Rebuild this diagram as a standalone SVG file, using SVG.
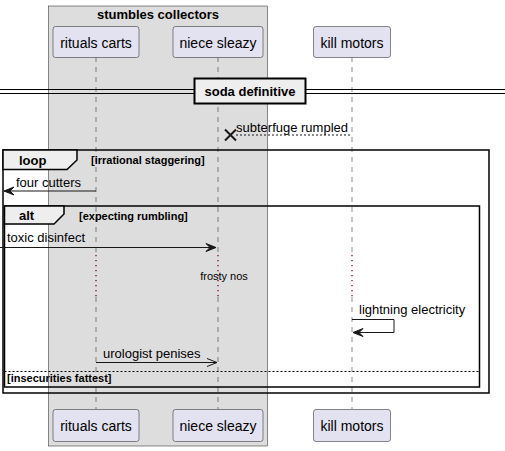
<svg xmlns="http://www.w3.org/2000/svg" width="505" height="451" viewBox="0 0 505 451">
<style>
text{font-family:"Liberation Sans",Arial,sans-serif;fill:#000}
.pt{font-size:14px;text-anchor:middle}
.msg{font-size:13px}
.b13{font-size:13px;font-weight:bold}
.b11{font-size:11px;font-weight:bold}
.pbox{fill:#E2E2F0;stroke:#181818;stroke-width:0.5}
.life{stroke:#181818;stroke-width:0.5;stroke-dasharray:5,5;fill:none}
.delay{stroke:#800030;stroke-width:1.3;stroke-dasharray:1.3,3.7;fill:none}
.frame{fill:none;stroke:#000;stroke-width:1.5}
.tab{fill:#EEEEEE;stroke:#000;stroke-width:1.5}
.line{stroke:#181818;stroke-width:1;fill:none}
.head{fill:#181818;stroke:#181818;stroke-width:1}
</style>
<g id="box-stumbles-collectors">
<rect x="48.5" y="6" width="219" height="440" fill="#DDDDDD" stroke="#181818" stroke-width="0.5"/>
<text class="b13" x="158" y="19" text-anchor="middle">stumbles collectors</text>
</g>
<g id="lifelines">
<line class="life" x1="96" y1="57" x2="96" y2="253"/>
<line class="delay" x1="96" y1="255" x2="96" y2="297"/>
<line class="life" x1="96" y1="297" x2="96" y2="409"/>
<line class="life" x1="218" y1="57" x2="218" y2="253"/>
<line class="delay" x1="218" y1="255" x2="218" y2="297"/>
<line class="life" x1="218" y1="297" x2="218" y2="409"/>
<line class="life" x1="352" y1="57" x2="352" y2="253"/>
<line class="delay" x1="352" y1="255" x2="352" y2="297"/>
<line class="life" x1="352" y1="297" x2="352" y2="409"/>
</g>
<g id="rituals-carts">
<rect class="pbox" x="53" y="26.5" width="86" height="31" rx="2.5"/>
<text class="pt" x="96" y="47.5">rituals carts</text>
<rect class="pbox" x="53" y="409.5" width="86" height="32" rx="2.5"/>
<text class="pt" x="96" y="431">rituals carts</text>
</g>
<g id="niece-sleazy">
<rect class="pbox" x="173" y="26.5" width="90" height="31" rx="2.5"/>
<text class="pt" x="218" y="47.5">niece sleazy</text>
<rect class="pbox" x="173" y="409.5" width="90" height="32" rx="2.5"/>
<text class="pt" x="218" y="431">niece sleazy</text>
</g>
<g id="kill-motors">
<rect class="pbox" x="313.5" y="26.5" width="77" height="31" rx="2.5"/>
<text class="pt" x="352" y="47.5">kill motors</text>
<rect class="pbox" x="313.5" y="409.5" width="77" height="32" rx="2.5"/>
<text class="pt" x="352" y="431">kill motors</text>
</g>
<g id="divider-soda-definitive">
<line x1="0" y1="89.5" x2="505" y2="89.5" stroke="#000" stroke-width="1"/>
<line x1="0" y1="93.5" x2="505" y2="93.5" stroke="#000" stroke-width="1"/>
<rect x="194.5" y="78.5" width="111" height="25" fill="#EEEEEE" stroke="#000" stroke-width="2"/>
<text class="b13" x="250" y="96" text-anchor="middle">soda definitive</text>
</g>
<g id="frame-loop">
<rect class="frame" x="3" y="150" width="486" height="243"/>
<path class="tab" d="M3,150 H77 V160 L67,169.5 H3 Z"/>
<text class="b13" x="19" y="164.5">loop</text>
<text class="b11" x="91" y="164">[irrational staggering]</text>
</g>
<g id="frame-alt">
<rect class="frame" x="4.5" y="206" width="475" height="181"/>
<path class="tab" d="M4.5,206 H64 V214 L54,224 H4.5 Z"/>
<text class="b13" x="19" y="220">alt</text>
<text class="b11" x="79" y="219.5">[expecting rumbling]</text>
<line x1="4.5" y1="371.5" x2="479.5" y2="371.5" stroke="#000" stroke-width="1" stroke-dasharray="2,2"/>
<text class="b11" x="7" y="382">[insecurities fattest]</text>
</g>
<g id="connectors">
<line class="line" x1="236" y1="135" x2="352" y2="135" stroke-dasharray="2,2"/>
<path d="M225,129.5 L236,140.5 M236,129.5 L225,140.5" stroke="#181818" stroke-width="2" fill="none"/>
<text class="msg" x="236" y="131.5">subterfuge rumpled</text>

<line class="line" x1="4" y1="191" x2="96" y2="191"/>
<polygon class="head" points="14,187 4,191 14,195 10,191"/>
<text class="msg" x="16" y="187">four cutters</text>

<line class="line" x1="0" y1="247.5" x2="216" y2="247.5"/>
<polygon class="head" points="206,243.5 216,247.5 206,251.5 210,247.5"/>
<text class="msg" x="7" y="242">toxic disinfect</text>

<text x="224" y="279.5" font-size="11px" text-anchor="middle">frosty nos</text>

<polyline class="line" points="352,319.5 394,319.5 394,332.5 353,332.5"/>
<polygon class="head" points="363,328.5 353,332.5 363,336.5 359,332.5"/>
<text class="msg" x="359" y="314">lightning electricity</text>

<line class="line" x1="96" y1="362.5" x2="217" y2="362.5"/>
<path d="M207,358.5 L217,362.5 L207,366.5" class="line"/>
<text class="msg" x="103" y="358">urologist penises</text>
</g>
</svg>
